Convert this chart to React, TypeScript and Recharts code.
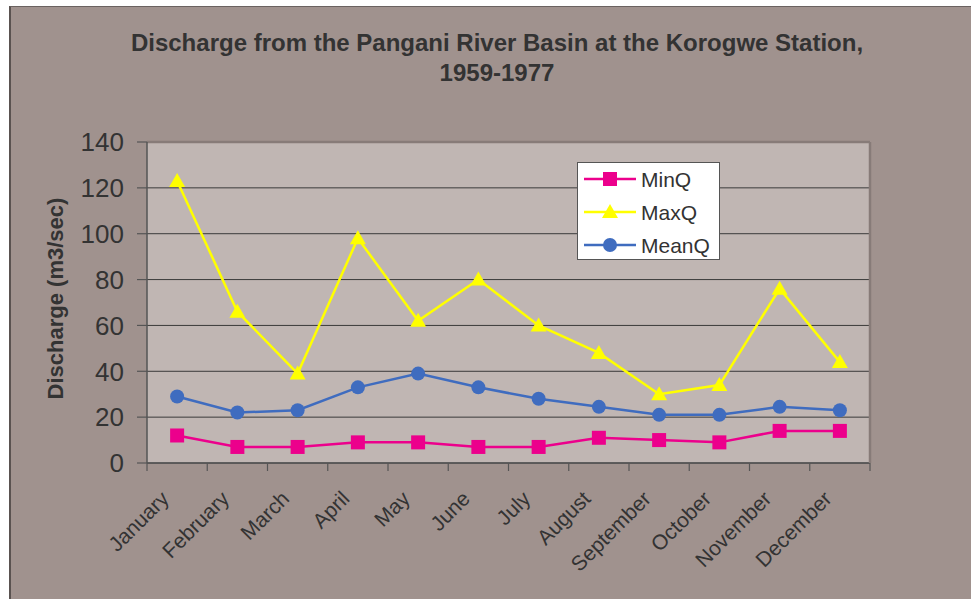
import React from 'react';
import { LineChart, Line, XAxis, YAxis, CartesianGrid, Legend, ReferenceLine } from 'recharts';

const months = ['January', 'February', 'March', 'April', 'May', 'June', 'July', 'August', 'September', 'October', 'November', 'December'];
const minQ = [12, 7, 7, 9, 9, 7, 7, 11, 10, 9, 14, 14];
const maxQ = [123, 66, 39, 98, 62, 80, 60, 48, 30, 34, 76, 44];
const meanQ = [29, 22, 23, 33, 39, 33, 28, 24.5, 21, 21, 24.5, 23];
const yTicks = [0, 20, 40, 60, 80, 100, 120, 140];

const data = months.map((m, i) => ({ month: m, MinQ: minQ[i], MaxQ: maxQ[i], MeanQ: meanQ[i] }));

const FONT = '"Liberation Sans", Arial, Helvetica, sans-serif';
const TEXT = '#333333';
const MIN_C = '#ec008c';
const MAX_C = '#ffff00';
const MEAN_C = '#3f6cbf';
const HALF_BAND = (870 - 147) / 24;

const SquareDot = (props: any) => {
  const { cx, cy, index } = props;
  if (cx == null || cy == null) return null;
  return <rect key={`s${index}`} x={cx - 7} y={cy - 7} width={14} height={14} fill={MIN_C} />;
};
const TriDot = (props: any) => {
  const { cx, cy, index } = props;
  if (cx == null || cy == null) return null;
  return <polygon key={`t${index}`} points={`${cx},${cy - 8} ${cx + 8},${cy + 6} ${cx - 8},${cy + 6}`} fill={MAX_C} />;
};
const CircleDot = (props: any) => {
  const { cx, cy, index } = props;
  if (cx == null || cy == null) return null;
  return <circle key={`c${index}`} cx={cx} cy={cy} r={7} fill={MEAN_C} />;
};

const XTick = (props: any) => {
  const { x, y, payload, index } = props;
  const tx = x - 7;
  const ty = y + 37;
  return (
    <g>
      <line x1={x - HALF_BAND} y1={y} x2={x - HALF_BAND} y2={y + 8} stroke="#555" strokeWidth={1.2} />
      {index === months.length - 1 && (
        <line x1={x + HALF_BAND} y1={y} x2={x + HALF_BAND} y2={y + 8} stroke="#555" strokeWidth={1.2} />
      )}
      <text x={tx} y={ty} transform={`rotate(-45 ${tx} ${ty})`} textAnchor="end" fontSize={21} fontFamily={FONT} fill={TEXT}>
        {payload.value}
      </text>
    </g>
  );
};

const YLabel = (props: any) => {
  const vb = props.viewBox || {};
  const cx = vb.x - 32;
  const cy = vb.y + vb.height / 2 - 4;
  return (
    <text x={cx} y={cy} transform={`rotate(-90 ${cx} ${cy})`} textAnchor="middle" dominantBaseline="central" fontSize={22} fontWeight="bold" fontFamily={FONT} fill={TEXT}>
      Discharge (m3/sec)
    </text>
  );
};

const legendItems = [
  { name: 'MinQ', color: MIN_C, kind: 'square' },
  { name: 'MaxQ', color: MAX_C, kind: 'tri' },
  { name: 'MeanQ', color: MEAN_C, kind: 'circle' },
];

const LegendBox = () => (
  <svg width={143} height={98} style={{ display: 'block' }}>
    <rect x={0.5} y={0.5} width={142} height={97} fill="#ffffff" stroke="#555" strokeWidth={1} />
    {legendItems.map((it, i) => {
      const y = 17 + i * 33;
      const mx = 33;
      return (
        <g key={it.name}>
          <line x1={7} y1={y} x2={59} y2={y} stroke={it.color} strokeWidth={2.5} />
          {it.kind === 'square' && <rect x={mx - 7} y={y - 7} width={14} height={14} fill={it.color} />}
          {it.kind === 'tri' && <polygon points={`${mx},${y - 8} ${mx + 8},${y + 6} ${mx - 8},${y + 6}`} fill={it.color} />}
          {it.kind === 'circle' && <circle cx={mx} cy={y} r={7} fill={it.color} />}
          <text x={64} y={y} dominantBaseline="central" fontSize={21} fontFamily={FONT} fill={TEXT}>
            {it.name}
          </text>
        </g>
      );
    })}
  </svg>
);

export default function App() {
  return (
    <div style={{ position: 'absolute', left: 0, top: 0, width: 971, height: 599, background: '#ffffff', overflow: 'hidden', fontFamily: FONT }}>
      <div style={{ position: 'absolute', left: 9, top: 6, width: 1000, height: 700, background: '#a0928e', borderLeft: '2px solid #5a5250', borderTop: '1px solid #6a6260' }} />
      <div style={{ position: 'absolute', left: 0, top: 28, width: 994, textAlign: 'center', fontSize: 24, lineHeight: '30px', fontWeight: 'bold', color: TEXT }}>
        Discharge from the Pangani River Basin at the Korogwe Station,
        <br />
        1959-1977
      </div>
      <div style={{ position: 'absolute', left: 0, top: 0 }}>
        <LineChart width={971} height={599} data={data} margin={{ top: 142, right: 100, left: 87, bottom: 36 }}>
          <CartesianGrid vertical={false} horizontal={true} fill="#c0b6b3" stroke="#3a3a3a" strokeWidth={1} />
          <XAxis
            dataKey="month"
            height={100}
            interval={0}
            tickSize={0}
            tickMargin={0}
            tickLine={false}
            padding={{ left: HALF_BAND, right: HALF_BAND }}
            axisLine={{ stroke: '#555', strokeWidth: 1.5 }}
            tick={<XTick />}
          />
          <YAxis
            width={60}
            domain={[0, 140]}
            ticks={yTicks}
            interval={0}
            tickSize={10}
            tickMargin={13}
            axisLine={{ stroke: '#555', strokeWidth: 1.5 }}
            tickLine={{ stroke: '#555', strokeWidth: 1.2 }}
            tick={{ fontSize: 26, fill: TEXT, fontFamily: FONT }}
            label={<YLabel />}
          />
          <YAxis
            yAxisId="right"
            orientation="right"
            width={1}
            domain={[0, 140]}
            tick={false}
            tickLine={false}
            axisLine={{ stroke: '#877b78', strokeWidth: 2.5 }}
          />
          <ReferenceLine y={140} stroke="#877b78" strokeWidth={2.5} ifOverflow="visible" />
          <Legend
            layout="vertical"
            align="center"
            verticalAlign="middle"
            content={<LegendBox />}
            wrapperStyle={{ position: 'absolute', left: 577, top: 162, width: 143, height: 98 }}
          />
          <Line dataKey="MinQ" stroke={MIN_C} strokeWidth={2.5} dot={<SquareDot />} activeDot={false} isAnimationActive={false} />
          <Line dataKey="MaxQ" stroke={MAX_C} strokeWidth={2.5} dot={<TriDot />} activeDot={false} isAnimationActive={false} />
          <Line dataKey="MeanQ" stroke={MEAN_C} strokeWidth={2.5} dot={<CircleDot />} activeDot={false} isAnimationActive={false} />
        </LineChart>
      </div>
    </div>
  );
}
